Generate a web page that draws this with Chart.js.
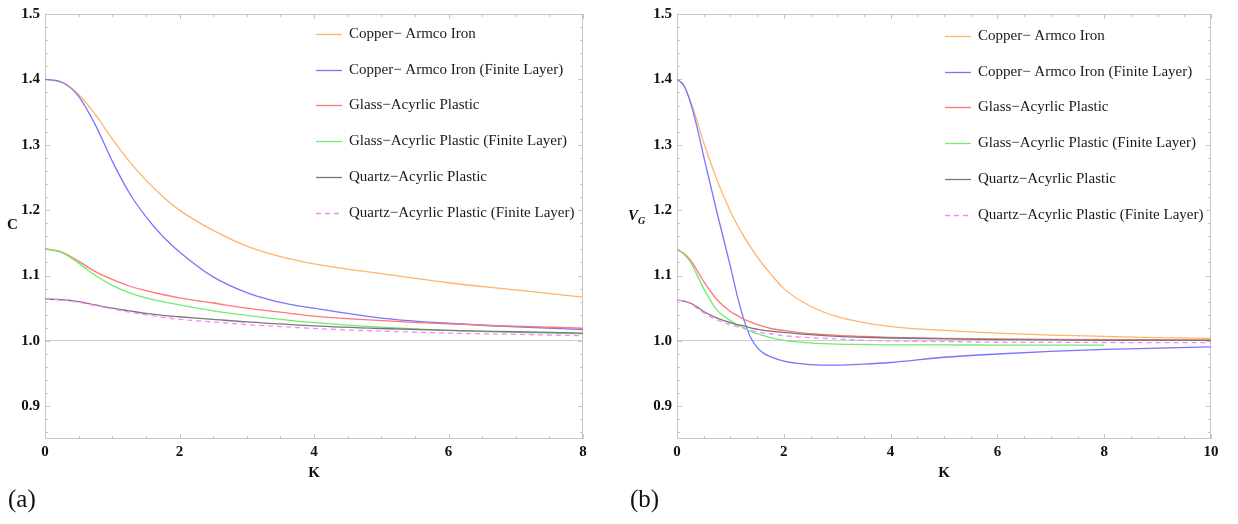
<!DOCTYPE html>
<html>
<head>
<meta charset="utf-8">
<script src="https://cdn.jsdelivr.net/npm/chart.js@4.4.0/dist/chart.umd.min.js"></script>
<style>
  body { margin: 0; background: #fff; width: 1238px; height: 524px; position: relative; overflow: hidden; font-family: "Liberation Serif", serif; }
  .panel { position: absolute; top: 0; width: 619px; height: 490px; }
  #panelA { left: 0; }
  #panelB { left: 619px; }
  .ylab { position: absolute; font-weight: bold; font-size: 15px; color: #111; }
  .tag { position: absolute; top: 485px; font-size: 25px; color: #111; }
</style>
</head>
<body>
<div class="panel" id="panelA"><canvas id="chartA"></canvas></div>
<div class="panel" id="panelB"><canvas id="chartB"></canvas></div>
<div class="ylab" style="left:7px; top:216px;">C</div>
<div class="ylab" style="left:628px; top:207px; font-style:italic;">V<sub style="font-size:10px;">G</sub></div>
<div class="tag" style="left:8px;">(a)</div>
<div class="tag" style="left:630px;">(b)</div>
<script>
// series names (same for both panels)
const seriesNames = [
    'Copper\u2212 Armco Iron',
    'Copper\u2212 Armco Iron (Finite Layer)',
    'Glass\u2212Acyrlic Plastic',
    'Glass\u2212Acyrlic Plastic (Finite Layer)',
    'Quartz\u2212Acyrlic Plastic',
    'Quartz\u2212Acyrlic Plastic (Finite Layer)'
];

// (a) C vs K
const kA = [0, 0.25, 0.5, 0.75, 1, 1.25, 1.5, 1.75, 2, 2.5, 3, 3.5, 4, 5, 6, 7, 8];
const copperA       = [1.400, 1.395, 1.377, 1.346, 1.309, 1.275, 1.246, 1.221, 1.200, 1.169, 1.145, 1.129, 1.118, 1.103, 1.089, 1.078, 1.067];
const copperFiniteA = [1.400, 1.396, 1.374, 1.330, 1.275, 1.227, 1.190, 1.160, 1.136, 1.098, 1.074, 1.059, 1.050, 1.035, 1.027, 1.0215, 1.0175];
const glassA        = [1.141, 1.136, 1.122, 1.106, 1.094, 1.084, 1.077, 1.071, 1.066, 1.058, 1.050, 1.044, 1.038, 1.031, 1.026, 1.0225, 1.0195];
const glassFiniteA  = [1.141, 1.135, 1.119, 1.100, 1.085, 1.074, 1.066, 1.060, 1.055, 1.046, 1.039, 1.033, 1.028, 1.021, 1.016, 1.013, 1.011];
const quartzA       = [1.064, 1.063, 1.060, 1.055, 1.050, 1.046, 1.042, 1.039, 1.037, 1.033, 1.029, 1.026, 1.023, 1.019, 1.016, 1.014, 1.012];
const quartzFiniteA = [1.064, 1.063, 1.059, 1.054, 1.049, 1.044, 1.040, 1.036, 1.033, 1.029, 1.025, 1.022, 1.019, 1.015, 1.012, 1.010, 1.008];

// (b) V_G vs K  (glass finite layer curve stops at K = 8)
const kB = [0, 0.125, 0.25, 0.375, 0.5, 0.75, 1, 1.125, 1.25, 1.375, 1.5, 1.625, 1.75, 2, 2.5, 3, 3.5, 4, 5, 6, 7, 8, 9, 10];
const copperB       = [1.400, 1.392, 1.367, 1.337, 1.303, 1.246, 1.198, 1.178, 1.160, 1.144, 1.129, 1.115, 1.103, 1.080, 1.053, 1.037, 1.028, 1.022, 1.016, 1.012, 1.009, 1.007, 1.005, 1.004];
const copperFiniteB = [1.400, 1.391, 1.365, 1.327, 1.282, 1.196, 1.114, 1.070, 1.033, 1.006, 0.990, 0.981, 0.976, 0.969, 0.9638, 0.963, 0.9645, 0.967, 0.975, 0.980, 0.984, 0.987, 0.989, 0.991];
const glassB        = [1.140, 1.134, 1.124, 1.108, 1.091, 1.063, 1.045, 1.039, 1.033, 1.029, 1.025, 1.022, 1.019, 1.016, 1.011, 1.0085, 1.007, 1.0055, 1.004, 1.003, 1.0025, 1.002, 1.0017, 1.0015];
const glassFiniteB  = [1.140, 1.133, 1.121, 1.101, 1.080, 1.047, 1.031, 1.025, 1.020, 1.015, 1.011, 1.008, 1.005, 1.001, 0.997, 0.995, 0.9945, 0.994, 0.994, 0.9935, 0.9935, 0.9935];
const quartzB       = [1.0625, 1.061, 1.058, 1.052, 1.045, 1.035, 1.028, 1.025, 1.023, 1.020, 1.018, 1.016, 1.015, 1.013, 1.0095, 1.007, 1.0055, 1.0045, 1.003, 1.002, 1.0015, 1.001, 1.001, 1.0008];
const quartzFiniteB = [1.0625, 1.061, 1.057, 1.050, 1.043, 1.032, 1.025, 1.022, 1.019, 1.016, 1.014, 1.012, 1.011, 1.008, 1.005, 1.003, 1.001, 1.000, 0.999, 0.998, 0.9978, 0.9976, 0.9975, 0.9975];

// tick labels
const yTicks = [0.9, 1.0, 1.1, 1.2, 1.3, 1.4, 1.5];
const xTicksA = [0, 2, 4, 6, 8];
const xTicksB = [0, 2, 4, 6, 8, 10];

const lineColors = ['rgb(255,180,110)', 'rgb(118,118,255)', 'rgb(255,118,118)', 'rgb(112,236,112)', 'rgb(120,120,120)', 'rgb(255,130,255)'];

const tickFont = { family: 'Liberation Serif', size: 15, weight: 'bold' };

function makeDatasets(ks, seriesList) {
    return seriesList.map(function(vals, i) {
        return {
            label: seriesNames[i],
            data: vals.map(function(v, j) { return { x: ks[j], y: v }; }),
            borderColor: lineColors[i],
            borderWidth: 1.3,
            borderDash: i === 5 ? [5, 4] : [],
            pointRadius: 0,
            cubicInterpolationMode: 'monotone',
            fill: false,
            order: 5 - i
        };
    });
}

// frame with inward Mathematica style ticks
const framePlugin = {
    id: 'frame',
    beforeDatasetsDraw(chart, args, opts) {
        const { ctx, chartArea: a, scales: { x, y } } = chart;
        ctx.save();
        ctx.strokeStyle = '#c6c6c6';
        ctx.lineWidth = 1;
        ctx.strokeRect(Math.round(a.left) + 0.5, Math.round(a.top) + 0.5, Math.round(a.width) - 1, Math.round(a.height) - 1);
        ctx.beginPath();
        for (let i = Math.ceil(x.min / opts.xMinor); i <= Math.floor(x.max / opts.xMinor + 1e-9); i++) {
            const v = i * opts.xMinor;
            const major = Math.abs(v / opts.xMajor - Math.round(v / opts.xMajor)) < 1e-6;
            const len = major ? 5 : 3;
            const px = Math.round(x.getPixelForValue(v)) + 0.5;
            ctx.moveTo(px, a.bottom); ctx.lineTo(px, a.bottom - len);
            ctx.moveTo(px, a.top); ctx.lineTo(px, a.top + len);
        }
        for (let i = Math.ceil(y.min / opts.yMinor - 1e-9); i <= Math.floor(y.max / opts.yMinor + 1e-9); i++) {
            const v = i * opts.yMinor;
            const major = Math.abs(v / opts.yMajor - Math.round(v / opts.yMajor)) < 1e-6;
            const len = major ? 5 : 3;
            const py = Math.round(y.getPixelForValue(v)) + 0.5;
            ctx.moveTo(a.left, py); ctx.lineTo(a.left + len, py);
            ctx.moveTo(a.right, py); ctx.lineTo(a.right - len, py);
        }
        ctx.stroke();
        ctx.restore();
    }
};

// legend drawn inside the plot
const insideLegend = {
    id: 'insideLegend',
    afterDraw(chart, args, opts) {
        const { ctx, chartArea: a } = chart;
        ctx.save();
        ctx.font = '15px "Liberation Serif"';
        ctx.textBaseline = 'middle';
        chart.data.datasets.forEach(function(ds, i) {
            const yy = Math.round(a.top + opts.top + i * opts.step) + 0.5;
            const x0 = a.left + opts.left;
            ctx.strokeStyle = ds.borderColor;
            ctx.lineWidth = 1.3;
            ctx.setLineDash(ds.borderDash || []);
            ctx.beginPath();
            ctx.moveTo(x0, yy);
            ctx.lineTo(x0 + 26, yy);
            ctx.stroke();
            ctx.setLineDash([]);
            ctx.fillStyle = '#1a1a1a';
            ctx.fillText(ds.label, x0 + 33, yy);
        });
        ctx.restore();
    }
};

function makeChart(canvasId, ks, seriesList, xMax, xTicks, padLeft, padRight, legendPos) {
    const ctx = document.getElementById(canvasId).getContext('2d');
    return new Chart(ctx, {
        type: 'line',
        data: { datasets: makeDatasets(ks, seriesList) },
        plugins: [framePlugin, insideLegend],
        options: {
            responsive: true,
            maintainAspectRatio: false,
            animation: false,
            layout: { padding: { top: 13, left: padLeft, right: padRight, bottom: 0 } },
            plugins: {
                legend: { display: false },
                tooltip: { enabled: false },
                frame: { xMinor: 0.5, xMajor: 2, yMinor: 0.02, yMajor: 0.1 },
                insideLegend: legendPos
            },
            scales: {
                x: {
                    type: 'linear',
                    min: 0,
                    max: xMax,
                    afterBuildTicks: function(scale) { scale.ticks = xTicks.map(function(v) { return { value: v }; }); },
                    afterFit: function(scale) { scale.height = 51; },
                    grid: { display: false, drawTicks: false },
                    border: { display: false },
                    ticks: { font: tickFont, color: '#111', padding: 4, maxRotation: 0,
                        callback: function(v) { return String(v); } },
                    title: { display: true, text: 'K', font: tickFont, color: '#111', padding: { top: 0, bottom: 8 } }
                },
                y: {
                    min: 0.85,
                    max: 1.5,
                    afterBuildTicks: function(scale) { scale.ticks = yTicks.map(function(v) { return { value: v }; }); },
                    afterFit: function(scale) { scale.width = 45; },
                    grid: {
                        drawTicks: false,
                        color: function(c) { return c.tick && Math.abs(c.tick.value - 1) < 1e-9 ? '#cdcdcd' : 'rgba(0,0,0,0)'; }
                    },
                    border: { display: false },
                    ticks: { font: tickFont, color: '#111', padding: 5,
                        callback: function(v) { return Number(v).toFixed(1); } }
                }
            }
        }
    });
}

makeChart('chartA', kA, [copperA, copperFiniteA, glassA, glassFiniteA, quartzA, quartzFiniteA],
    8, xTicksA, 0, 36, { left: 271, top: 20, step: 35.7 });
makeChart('chartB', kB, [copperB, copperFiniteB, glassB, glassFiniteB, quartzB, quartzFiniteB],
    10, xTicksB, 13, 27, { left: 268, top: 22, step: 35.7 });
</script>
</body>
</html>
